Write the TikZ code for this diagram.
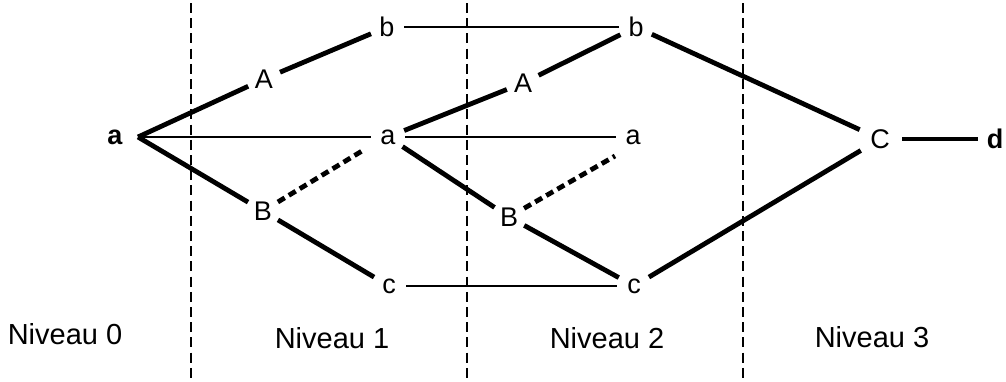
\documentclass[tikz,border=0pt]{standalone}
\usepackage{fontspec}
\setmainfont{Liberation Sans}
\usetikzlibrary{calc}
\begin{document}
\begin{tikzpicture}[x=0.5pt,y=-0.5pt,
  lbl/.style={circle,inner sep=0pt,minimum size=17pt,font=\fontsize{13.5}{16}\selectfont},
  big/.style={lbl,minimum size=22pt},
  niv/.style={inner sep=0pt,font=\fontsize{14.5}{17}\selectfont},
  thick line/.style={line width=2.4pt},
  thin line/.style={line width=0.7pt},
  dash thick/.style={line width=2.4pt,dash pattern=on 4pt off 2.4pt},
  sep line/.style={line width=1pt,dash pattern=on 5pt off 2.6pt}]
\useasboundingbox (0,0) rectangle (1006,381);
% level separators
\coordinate (s1t) at (191,3); \coordinate (s1b) at (191,381);
\coordinate (s2t) at (467,3); \coordinate (s2b) at (467,381);
\coordinate (s3t) at (743,3); \coordinate (s3b) at (743,381);
\draw[sep line] (s1t) -- (s1b);
\draw[sep line] (s2t) -- (s2b);
\draw[sep line] (s3t) -- (s3b);
% nodes
\node[lbl,font=\fontsize{13.5}{16}\selectfont\bfseries] (a0) at (115,137) {a};
\coordinate (j0) at (138,137);
\node[lbl] (A1) at (264,79) {A};
\node[lbl] (b1) at (387,27) {b};
\node[lbl] (a1) at (388,137) {a};
\node[lbl] (B1) at (263,211) {B};
\node[lbl] (c1) at (389,286) {c};
\node[lbl] (A2) at (523,83) {A};
\node[lbl] (b2) at (636,27) {b};
\node[lbl] (a2) at (633,137) {a};
\node[lbl] (B2) at (509,217) {B};
\node[lbl] (c2) at (634,286) {c};
\node[big] (C) at (880,139) {C};
\node[lbl,font=\fontsize{13.5}{16}\selectfont\bfseries] (d) at (995,139) {d};
% level labels
\node[niv] (n0) at (65,334) {Niveau 0};
\node[niv] (n1) at (332,338) {Niveau 1};
\node[niv] (n2) at (607,338) {Niveau 2};
\node[niv] (n3) at (872,337) {Niveau 3};
% connectors
\draw[thick line] (j0) -- (A1);
\draw[thick line] (A1) -- (b1);
\draw[thin line] (j0) -- (a1);
\draw[thick line] (j0) -- (B1);
\draw[thick line] (B1) -- (c1);
\draw[dash thick] (B1) -- ($(a1)+(-26,14)$);
\draw[thin line] (b1.east) -- (b2.west);
\draw[thin line] (c1.east) -- (c2.west);
\draw[thick line] (a1) -- (A2);
\draw[thick line] (A2) -- (b2);
\draw[thin line] (a1.east) -- (a2.west);
\draw[thick line] (a1) -- (B2);
\draw[thick line] (B2) -- (c2);
\draw[dash thick] (B2) -- ($(a2)+(-18,19)$);
\draw[thick line] (b2) -- (C);
\draw[thick line] (c2) -- (C);
\draw[thick line] (C) -- (d);
\end{tikzpicture}
\end{document}
